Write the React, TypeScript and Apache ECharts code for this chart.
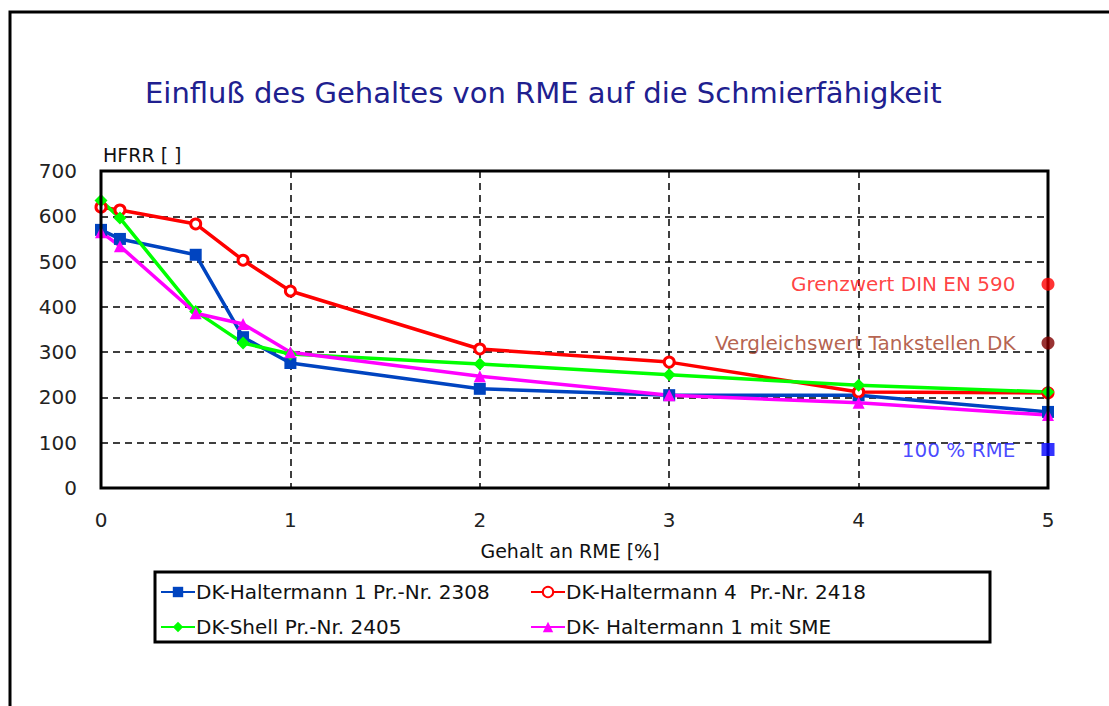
import React, { useEffect, useRef } from "react";
import * as echarts from "echarts";

const xValues = [0, 0.1, 0.5, 0.75, 1, 2, 3, 4, 5];
const haltermann1 = [570, 550, 515, 333, 276, 219, 205, 205, 168];
const haltermann4 = [620, 614, 583, 503, 435, 307, 278, 212, 210];
const shell = [635, 596, 390, 320, 296, 274, 250, 227, 212];
const haltermannSME = [565, 534, 386, 362, 300, 247, 205, 188, 161];

const refNames = ["Grenzwert DIN EN 590", "Vergleichswert Tankstellen DK", "100 % RME"];
const refValues = [450, 320, 85];
const refColors = ["#ff0000", "#800000", "#0000ff"];
const refLabelColors = ["#ff1010", "#a33a22", "#1a1aff"];
const refSymbols = ["circle", "circle", "rect"];

const yTicks = [0, 100, 200, 300, 400, 500, 600, 700];
const xTicks = [0, 1, 2, 3, 4, 5];

const seriesNames = [
  "DK-Haltermann 1 Pr.-Nr. 2308",
  "DK-Haltermann 4  Pr.-Nr. 2418",
  "DK-Shell Pr.-Nr. 2405",
  "DK- Haltermann 1 mit SME",
];

const FONT = "'DejaVu Sans', 'Liberation Sans', Arial, sans-serif";

export default function App() {
  const ref = useRef<HTMLDivElement>(null);
  useEffect(() => {
    if (!ref.current) return;
    const chart = echarts.init(ref.current, undefined, { renderer: "svg" });
    const pair = (ys: number[]) => xValues.map((x, i) => [x, ys[i]]);
    const lineBase = (name: string, ys: number[], color: string, symbol: string, size: number, extra: any = {}) => ({
      name,
      type: "line",
      data: pair(ys),
      symbol,
      symbolSize: size,
      lineStyle: { color, width: 3.5 },
      itemStyle: { color, ...extra },
      z: 3,
    });
    const legendPos = [
      { left: 160, top: 582 },
      { left: 530, top: 582 },
      { left: 160, top: 617 },
      { left: 530, top: 617 },
    ];
    chart.setOption({
      animation: false,
      backgroundColor: "#ffffff",
      textStyle: { fontFamily: FONT },
      grid: {
        left: 101,
        right: 61,
        top: 171,
        bottom: 218,
        show: true,
        borderColor: "#000",
        borderWidth: 3,
        backgroundColor: "transparent",
        z: 4,
      },
      legend: seriesNames.map((n, i) => ({
        data: [n],
        left: legendPos[i].left,
        top: legendPos[i].top,
        itemWidth: 34,
        itemHeight: 13,
        itemGap: 2,
        padding: 0,
        textStyle: { fontSize: 20, color: "#111", fontFamily: FONT, padding: [0, 0, 0, -4] },
        selectedMode: false,
      })),
      xAxis: {
        type: "value",
        min: 0,
        max: 5,
        interval: 1,
        axisLine: { show: false },
        axisTick: { show: false },
        axisLabel: { fontSize: 20, color: "#222", margin: 22, fontFamily: FONT },
        splitLine: { show: true, lineStyle: { color: "#000", type: [7, 5], width: 1.5 } },
        data: xTicks,
      },
      yAxis: {
        type: "value",
        min: 0,
        max: 700,
        interval: 100,
        axisLine: { show: false },
        axisTick: { show: false },
        axisLabel: { fontSize: 20, color: "#222", margin: 24, fontFamily: FONT },
        splitLine: { show: true, lineStyle: { color: "#000", type: [7, 5], width: 1.5 } },
        data: yTicks,
      },
      series: [
        lineBase(seriesNames[0], haltermann1, "#0044c0", "rect", 12),
        lineBase(seriesNames[1], haltermann4, "#ff0000", "circle", 10, { color: "#fff", borderColor: "#ff0000", borderWidth: 3 }),
        lineBase(seriesNames[2], shell, "#00ff00", "diamond", 13),
        lineBase(seriesNames[3], haltermannSME, "#ff00ff", "triangle", 12),
        {
          name: "ref",
          type: "scatter",
          data: refValues.map((v, i) => ({
            value: [5, v],
            symbol: refSymbols[i],
            itemStyle: { color: refColors[i] },
            label: {
              show: true,
              position: "left",
              distance: 26,
              formatter: refNames[i],
              color: refLabelColors[i],
              fontSize: 20,
              fontFamily: FONT,
            },
          })),
          symbolSize: 13,
          z: 5,
        },
      ],
      graphic: [
        {
          type: "rect",
          shape: { x: 10, y: 12, width: 1200, height: 800 },
          style: { fill: "none", stroke: "#000", lineWidth: 3 },
          silent: true,
        },
        {
          type: "text",
          x: 145,
          y: 93,
          style: {
            text: "Einfluß des Gehaltes von RME auf die Schmierfähigkeit",
            font: `29px ${FONT}`,
            fill: "#20208f",
            textVerticalAlign: "middle",
          },
        },
        {
          type: "text",
          x: 103,
          y: 155,
          style: { text: "HFRR [ ]", font: `19px ${FONT}`, fill: "#111", textVerticalAlign: "middle" },
        },
        {
          type: "text",
          x: 570,
          y: 551,
          style: { text: "Gehalt an RME [%]", font: `19px ${FONT}`, fill: "#111", textAlign: "center", textVerticalAlign: "middle" },
        },
        {
          type: "rect",
          shape: { x: 155, y: 572, width: 835, height: 70 },
          style: { fill: "none", stroke: "#000", lineWidth: 3 },
          silent: true,
        },
      ],
    });
    return () => chart.dispose();
  }, []);
  return <div ref={ref} style={{ position: "absolute", left: 0, top: 0, width: 1109, height: 706 }} />;
}
